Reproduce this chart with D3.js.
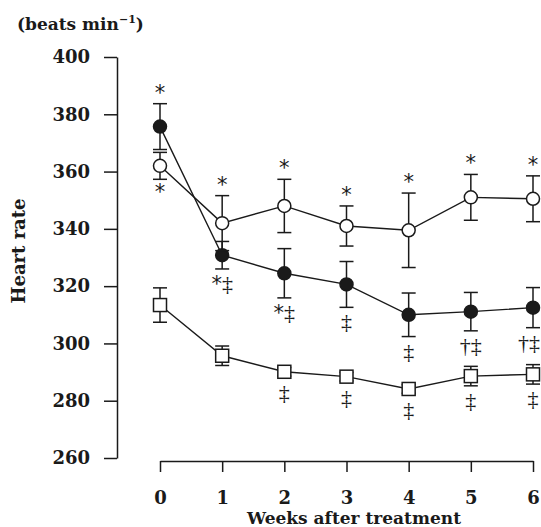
<!DOCTYPE html>
<html><head><meta charset="utf-8">
<script src="https://cdn.jsdelivr.net/npm/d3@7"></script>
<style>body{margin:0;background:#fff;} svg{display:block;}</style>
</head><body>
<svg id="c" width="541" height="527"></svg>
<script>
const weeks = [0, 1, 2, 3, 4, 5, 6];
const yTicks = [260, 280, 300, 320, 340, 360, 380, 400];

const openMean = [362, 342, 348, 341, 339.5, 351, 350.5];
const openErr  = [4.7, 9.6, 9.3, 7, 13, 8, 8];
const filledMean = [375.7, 330.8, 324.5, 320.6, 310, 311.1, 312.5];
const filledErr  = [8, 4.8, 8.6, 8, 7.6, 6.7, 7];
const squareMean = [313.4, 295.7, 290.1, 288.4, 284.1, 288.6, 289.2];
const squareErr  = [6, 3.4, 1.5, 1.5, 1.5, 3.4, 3.4];

const openAbove   = ["", "*", "*", "*", "*", "*", "*"];
const openBelow   = ["*", "", "", "", "", "", ""];
const filledAbove = ["*", "", "", "", "", "", ""];
const filledBelow = ["", "*‡", "*‡", "‡", "‡", "†‡", "†‡"];
const squareBelow = ["", "", "‡", "‡", "‡", "‡", "‡"];

const svg = d3.select("#c");
const x = d3.scaleLinear().domain([0, 6]).range([160, 533]);
const y = d3.scaleLinear().domain([260, 400]).range([458, 57]);
const serif = "'DejaVu Serif', serif";
const ink = "#1a1a1a";

// Y axis
const ya = svg.append("g").attr("transform", "translate(117,0)")
  .call(d3.axisLeft(y).tickValues(yTicks).tickSize(13).tickSizeOuter(0).tickPadding(14).tickFormat(d3.format("d")));
ya.select(".domain").attr("stroke", ink).attr("stroke-width", 1.5);
ya.selectAll(".tick line").attr("stroke", ink).attr("stroke-width", 1.5);
ya.selectAll(".tick text").attr("font-family", serif).attr("font-weight", "bold").attr("font-size", 18).attr("fill", ink);

// X axis
const xa = svg.append("g").attr("transform", "translate(0,461)")
  .call(d3.axisBottom(x).tickValues(weeks).tickSize(11).tickSizeOuter(0).tickPadding(19).tickFormat(d3.format("d")));
xa.select(".domain").attr("stroke", ink).attr("stroke-width", 1.5);
xa.selectAll(".tick line").attr("stroke", ink).attr("stroke-width", 1.5);
xa.selectAll(".tick text").attr("font-family", serif).attr("font-weight", "bold").attr("font-size", 18).attr("fill", ink);

// Axis titles
const t = svg.append("text").attr("x", 17).attr("y", 30).attr("font-family", serif).attr("font-weight", "bold").attr("font-size", 17).attr("fill", ink);
t.append("tspan").text("(beats min");
t.append("tspan").attr("dy", -7).attr("font-size", 11).text("−1");
t.append("tspan").attr("dy", 7).text(")");

svg.append("text").attr("transform", "translate(25,251) rotate(-90)").attr("text-anchor", "middle")
  .attr("font-family", serif).attr("font-weight", "bold").attr("font-size", 18).attr("fill", ink).text("Heart rate");
svg.append("text").attr("x", 354).attr("y", 524).attr("text-anchor", "middle")
  .attr("font-family", serif).attr("font-weight", "bold").attr("font-size", 17).attr("fill", ink).text("Weeks after treatment");

const line = d3.line().x((d, i) => x(weeks[i])).y(d => y(d));
const cap = 7;

function series(mean, err) {
  const g = svg.append("g");
  mean.forEach((m, i) => {
    const cx = x(weeks[i]), y1 = y(m + err[i]), y2 = y(m - err[i]);
    g.append("line").attr("x1", cx).attr("x2", cx).attr("y1", y1).attr("y2", y2).attr("stroke", ink).attr("stroke-width", 1.5);
    [y1, y2].forEach(yy => g.append("line").attr("x1", cx - cap).attr("x2", cx + cap).attr("y1", yy).attr("y2", yy).attr("stroke", ink).attr("stroke-width", 1.5));
  });
  g.append("path").datum(mean).attr("d", line).attr("fill", "none").attr("stroke", ink).attr("stroke-width", 1.4);
  return g;
}
function markers(g, mean, kind) {
  mean.forEach((m, i) => {
    const cx = x(weeks[i]), cy = y(m);
    if (kind === "square") {
      g.append("rect").attr("x", cx - 6.5).attr("y", cy - 6.5).attr("width", 13).attr("height", 13)
        .attr("fill", "#fff").attr("stroke", ink).attr("stroke-width", 1.5);
    } else {
      g.append("circle").attr("cx", cx).attr("cy", cy).attr("r", 6.5)
        .attr("fill", kind === "filled" ? ink : "#fff").attr("stroke", ink).attr("stroke-width", 1.5);
    }
  });
}

const gS = series(squareMean, squareErr); markers(gS, squareMean, "square");
const gF = series(filledMean, filledErr); markers(gF, filledMean, "filled");
const gO = series(openMean, openErr); markers(gO, openMean, "open");

// annotations
const sym = svg.append("g").attr("fill", ink);
function above(labels, mean, err) {
  labels.forEach((s, i) => {
    if (!s) return;
    sym.append("text").attr("x", x(weeks[i])).attr("y", y(mean[i] + err[i]) - 4)
      .attr("text-anchor", "middle").attr("font-family", "'DejaVu Sans', sans-serif").attr("font-size", 21).text(s);
  });
}
function below(labels, mean, err, halfMarker) {
  labels.forEach((s, i) => {
    if (!s) return;
    const bottom = Math.max(y(mean[i] - err[i]), y(mean[i]) + halfMarker);
    if (s === "*") {
      sym.append("text").attr("x", x(weeks[i])).attr("y", bottom + 20)
        .attr("text-anchor", "middle").attr("font-family", "'DejaVu Sans', sans-serif").attr("font-size", 21).text(s);
    } else {
      const tx = sym.append("text").attr("y", bottom + 22)
        .attr("font-family", "'Liberation Serif', serif").attr("font-size", 22);
      for (const ch of s) {
        if (ch === "*") tx.append("tspan").attr("font-family", "'DejaVu Sans', sans-serif").attr("font-size", 21).text(ch);
        else tx.append("tspan").text(ch);
      }
      // centre on the week, but keep the text inside the picture
      const w = tx.node().getComputedTextLength();
      const left = Math.min(x(weeks[i]) - w / 2, 540 - w);
      tx.attr("x", left);
    }
  });
}
above(openAbove, openMean, openErr);
above(filledAbove, filledMean, filledErr);
below(openBelow, openMean, openErr, 6.5);
below(filledBelow, filledMean, filledErr, 6.5);
below(squareBelow, squareMean, squareErr, 6.5);
</script>
</body></html>
